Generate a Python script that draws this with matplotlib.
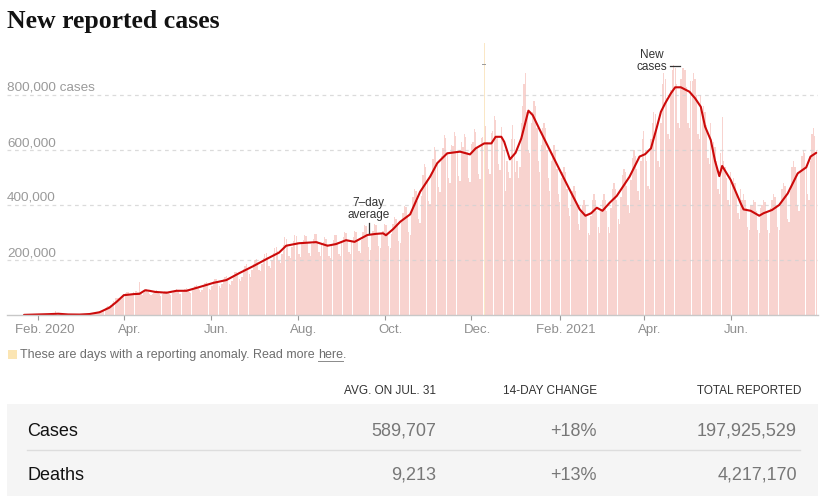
import matplotlib
matplotlib.use('Agg')
import matplotlib.pyplot as plt
import matplotlib.dates as mdates
import matplotlib.transforms as mtransforms
from matplotlib.patches import Rectangle
from matplotlib.lines import Line2D
import numpy as np
import pandas as pd

W, H, DPI = 830, 503, 100

# ---------------- data ----------------
start_date = '2020-01-22'
# daily new reported cases (thousands), one row per week (Wed..Tue)
daily_cases_k = [
    0.1, 0.1, 0.3, 0.5, 0.7, 0.8, 1.4,
    1.7, 2.0, 2.1, 2.6, 2.8, 3.2, 3.9,
    3.7, 3.2, 3.4, 2.6, 2.7, 3.1, 2.0,
    0.4, 15.1, 6.4, 2.1, 2.6, 2.0, 1.9,
    0.6, 0.5, 1.0, 1.0, 0.7, 0.6, 0.9,
    0.9, 1.1, 1.4, 1.8, 1.9, 1.8, 2.2,
    2.3, 2.7, 3.9, 3.9, 3.6, 3.8, 4.6,
    7.0, 7.4, 10.3, 12.0, 13.0, 15.0, 16.0,
    20, 27, 30, 32, 34, 38, 42,
    50, 62, 63, 63, 61, 58, 66,
    76, 79, 85, 82, 78, 72, 74,
    82, 86, 88, 82, 120, 76, 72,
    80, 92, 95, 85, 78, 74, 76,
    80, 86, 90, 84, 76, 70, 78,
    80, 86, 88, 84, 76, 72, 80,
    88, 92, 96, 90, 78, 76, 84,
    90, 96, 98, 94, 82, 80, 90,
    100, 106, 108, 102, 90, 84, 92,
    108, 118, 120, 112, 96, 92, 106,
    122, 130, 130, 124, 104, 100, 114,
    132, 138, 142, 134, 112, 110, 124,
    144, 156, 158, 148, 130, 124, 140,
    168, 180, 184, 172, 150, 140, 162,
    186, 200, 204, 192, 164, 160, 184,
    208, 222, 224, 212, 180, 172, 200,
    226, 244, 248, 234, 196, 190, 222,
    254, 282, 276, 256, 216, 206, 246,
    270, 290, 286, 264, 222, 212, 258,
    272, 292, 288, 266, 226, 216, 260,
    276, 296, 294, 268, 228, 216, 260,
    264, 282, 278, 258, 216, 208, 252,
    272, 292, 290, 266, 222, 214, 262,
    282, 302, 300, 274, 230, 222, 270,
    284, 304, 302, 276, 232, 224, 272,
    302, 326, 322, 292, 246, 238, 290,
    306, 330, 326, 298, 252, 242, 296,
    306, 330, 326, 298, 250, 242, 296,
    330, 356, 350, 322, 270, 262, 338,
    370, 398, 392, 360, 302, 290, 376,
    428, 460, 452, 414, 348, 336, 432,
    510, 548, 540, 495, 416, 402, 520,
    566, 610, 600, 550, 464, 446, 578,
    608, 656, 644, 590, 498, 480, 620,
    616, 664, 650, 598, 504, 486, 628,
    612, 660, 646, 594, 500, 482, 622,
    630, 678, 666, 610, 514, 496, 642,
    648, 700, 686, 630, 530, 512, 662,
    670, 722, 708, 652, 548, 528, 684,
    634, 600, 450, 560, 520, 500, 640,
    690, 640, 520, 560, 500, 540, 700,
    760, 840, 880, 740, 600, 590, 700,
    740, 780, 760, 680, 560, 520, 620,
    680, 700, 680, 600, 500, 450, 560,
    590, 620, 600, 530, 440, 410, 500,
    520, 540, 520, 460, 390, 360, 440,
    450, 470, 450, 400, 330, 310, 380,
    400, 420, 400, 360, 300, 290, 360,
    420, 440, 420, 380, 320, 300, 380,
    420, 440, 420, 380, 320, 300, 390,
    460, 480, 460, 420, 350, 330, 430,
    510, 530, 520, 470, 400, 370, 490,
    570, 600, 580, 530, 450, 420, 560,
    640, 670, 600, 560, 470, 460, 640,
    700, 740, 730, 680, 560, 540, 700,
    840, 880, 860, 790, 660, 640, 820,
    890, 910, 900, 840, 700, 680, 860,
    900, 900, 890, 830, 700, 680, 850,
    850, 880, 860, 800, 660, 640, 800,
    740, 760, 740, 690, 570, 550, 700,
    610, 630, 610, 560, 460, 440, 590,
    720, 560, 540, 500, 420, 400, 520,
    480, 500, 480, 440, 370, 350, 460,
    420, 440, 420, 390, 320, 310, 400,
    400, 420, 410, 380, 310, 300, 390,
    400, 420, 410, 380, 310, 300, 390,
    420, 440, 430, 400, 320, 310, 400,
    460, 480, 470, 440, 350, 340, 450,
    540, 560, 540, 500, 400, 380, 520,
    580, 600, 590, 540, 440, 420, 560,
    660, 680, 650, 600,
]

anomaly_dates = ['2020-12-10']
anomaly_cases_k = [990]

avg_dates = [
    '2020-01-22', '2020-02-01', '2020-02-08', '2020-02-15', '2020-02-22', '2020-03-01',
    '2020-03-08', '2020-03-15', '2020-03-22', '2020-03-27', '2020-04-01', '2020-04-08',
    '2020-04-12', '2020-04-16', '2020-04-19', '2020-04-23', '2020-05-01', '2020-05-08',
    '2020-05-15', '2020-05-25', '2020-06-03', '2020-06-12', '2020-06-21', '2020-07-01',
    '2020-07-10', '2020-07-19', '2020-07-24', '2020-08-02', '2020-08-14', '2020-08-22',
    '2020-08-28', '2020-09-04', '2020-09-10', '2020-09-19', '2020-09-25', '2020-09-30',
    '2020-10-02', '2020-10-07', '2020-10-12', '2020-10-19', '2020-10-26', '2020-11-02',
    '2020-11-07', '2020-11-14', '2020-11-23', '2020-11-30', '2020-12-04', '2020-12-10',
    '2020-12-15', '2020-12-18', '2020-12-22', '2020-12-24', '2020-12-28', '2021-01-01',
    '2021-01-05', '2021-01-10', '2021-01-13', '2021-01-18', '2021-01-25', '2021-02-01',
    '2021-02-08', '2021-02-15', '2021-02-19', '2021-02-23', '2021-02-27', '2021-03-03',
    '2021-03-08', '2021-03-13', '2021-03-22', '2021-03-29', '2021-04-02', '2021-04-06',
    '2021-04-10', '2021-04-13', '2021-04-16', '2021-04-20', '2021-04-23', '2021-04-27',
    '2021-05-03', '2021-05-07', '2021-05-11', '2021-05-14', '2021-05-18', '2021-05-21',
    '2021-05-24', '2021-05-26', '2021-05-28', '2021-06-01', '2021-06-08', '2021-06-10',
    '2021-06-15', '2021-06-21', '2021-06-24', '2021-06-30', '2021-07-05', '2021-07-11',
    '2021-07-18', '2021-07-24', '2021-07-27', '2021-07-31',
]
avg_cases_k = [
    0.5, 2.0, 3.0, 4.5, 2.0, 1.6,
    3.5, 10, 27, 48, 72, 76,
    77, 90, 88, 84, 81, 88,
    88, 103, 117, 127, 152, 178,
    203, 227, 252, 261, 265, 252,
    258, 272, 266, 291, 295, 297,
    290, 312, 339, 366, 448, 503,
    552, 588, 594, 584, 606, 624,
    624, 648, 648, 630, 566, 590,
    642, 743, 727, 673, 600, 527,
    455, 384, 361, 370, 390, 379,
    408, 433, 503, 576, 585, 606,
    680, 739, 770, 806, 828, 828,
    812, 788, 757, 685, 636, 560,
    505, 542, 525, 491, 406, 384,
    379, 361, 370, 382, 400, 442,
    515, 537, 576, 589.707,
]

y_ticks = [200000, 400000, 600000, 800000]
y_tick_labels = ['200,000', '400,000', '600,000', '800,000 cases']
x_tick_dates = ['2020-02-01', '2020-04-01', '2020-06-01', '2020-08-01', '2020-10-01',
                '2020-12-01', '2021-02-01', '2021-04-01', '2021-06-01']
x_tick_labels = ['Feb. 2020', 'Apr.', 'Jun.', 'Aug.', 'Oct.', 'Dec.', 'Feb. 2021', 'Apr.', 'Jun.']

table_columns = ['AVG. ON JUL. 31', '14-DAY CHANGE', 'TOTAL REPORTED']
table_rows = ['Cases', 'Deaths']
table_avg = ['589,707', '9,213']
table_change = ['+18%', '+13%']
table_total = ['197,925,529', '4,217,170']

# ---------------- styles ----------------
BAR_COLOR = '#f8d3cf'
ANOM_COLOR = '#fae7c6'
LINE_COLOR = '#cc0a0a'
GRID_COLOR = '#d2d2d2'
SANS = ['Liberation Sans', 'DejaVu Sans']

plt.rcParams['font.family'] = SANS

fig = plt.figure(figsize=(W / DPI, H / DPI), dpi=DPI)
fig.patch.set_facecolor('white')


def fx(px):
    return px / W


def fy(py):
    return 1 - py / H


ax = fig.add_axes([fx(7), fy(315), fx(817.5) - fx(7), fy(40) - fy(315)])
ax.set_facecolor('none')

d0 = mdates.date2num(pd.Timestamp(start_date))
ax.set_xlim(d0 - 11.96, d0 + 556.9)
ax.set_ylim(0, 1_000_000)

# bars
dates = pd.date_range(start_date, periods=len(daily_cases_k), freq='D')
xs = mdates.date2num(dates)
vals = np.array(daily_cases_k, dtype=float) * 1000
anom_x = mdates.date2num(pd.to_datetime(anomaly_dates))
mask = ~np.isin(xs, anom_x)
ax.bar(xs[mask], vals[mask], width=0.92, color=BAR_COLOR, linewidth=0, zorder=2)
ax.bar(anom_x, np.array(anomaly_cases_k) * 1000, width=0.7, color=ANOM_COLOR,
       linewidth=0, zorder=2)

# grid lines
for yt in y_ticks:
    ax.axhline(yt, color=GRID_COLOR, lw=0.9, ls=(0, (3, 3)), alpha=0.8, zorder=3)

# 7-day average line
ax_x = mdates.date2num(pd.to_datetime(avg_dates))
ax_y = np.array(avg_cases_k) * 1000
ax.plot(ax_x, ax_y, color=LINE_COLOR, lw=1.5, solid_joinstyle='round',
        solid_capstyle='round', zorder=5)

# y labels inside plot
ylab_tr = mtransforms.blended_transform_factory(ax.transAxes, ax.transData) + \
    mtransforms.ScaledTranslation(0, 4 / DPI, fig.dpi_scale_trans)
for yt, lab in zip(y_ticks, y_tick_labels):
    ax.text(0, yt, lab, transform=ylab_tr, ha='left', va='baseline',
            fontsize=9.7, color='#9a9a9a', zorder=6)
ax.set_yticks([])

# x axis
for s in ['top', 'right', 'left']:
    ax.spines[s].set_visible(False)
ax.spines['bottom'].set_color('#c8c8c8')
ax.spines['bottom'].set_linewidth(1.0)
ax.spines['bottom'].set_zorder(6)
ax.set_xticks(mdates.date2num(pd.to_datetime(x_tick_dates)))
ax.set_xticklabels(x_tick_labels)
ax.tick_params(axis='x', length=3.6, width=0.8, color='#999999',
               labelcolor='#8f8f8f', labelsize=9.5, pad=3)
off = mtransforms.ScaledTranslation(6 / DPI, 0, fig.dpi_scale_trans)
for lab in ax.get_xticklabels():
    lab.set_transform(lab.get_transform() + off)

# annotation: 7-day average
ann_date = mdates.date2num(pd.Timestamp('2020-09-20'))
ann_val = np.interp(ann_date, ax_x, ax_y)
px_per_val = (315 - 40) / 1_000_000
ax.plot([ann_date, ann_date], [ann_val + 2 / px_per_val, ann_val + 12 / px_per_val],
        color='#333333', lw=0.9, zorder=6)
ax.text(ann_date, ann_val + 26 / px_per_val, '7\u2013day\naverage', ha='center',
        va='center', fontsize=8.5, color='#333333', linespacing=1.05, zorder=6)

# annotation: New cases
fig.text(fx(667), fy(61), 'New\ncases', ha='right', va='center', fontsize=8.5,
         color='#333333', linespacing=1.05, multialignment='center')
fig.add_artist(Line2D([fx(670), fx(680)], [fy(66), fy(66)], color='#333333', lw=0.9))
fig.add_artist(Line2D([fx(482), fx(485)], [fy(64), fy(64)], color='#999999', lw=0.7))

# title
fig.text(fx(7), fy(28), 'New reported cases', fontfamily='Liberation Serif',
         fontweight='bold', fontsize=18.5, color='#121212', va='baseline', ha='left')

# footnote
fig.add_artist(Rectangle((fx(8), fy(359)), fx(9), 9 / H, color='#fbe5b3', lw=0,
                         transform=fig.transFigure))
t1 = fig.text(fx(20), fy(355), 'These are days with a reporting anomaly. Read more',
              ha='left', va='center', fontsize=9, color='#6e6e6e')
fig.canvas.draw()
r = fig.canvas.get_renderer()
bb = t1.get_window_extent(r)
x_here = bb.x1 + 3.2
t2 = fig.text(x_here / W, fy(355), 'here', ha='left', va='center', fontsize=9,
              color='#6e6e6e')
bb2 = t2.get_window_extent(r)
fig.add_artist(Line2D([bb2.x0 / W, bb2.x1 / W], [fy(361), fy(361)], color='#8a8a8a', lw=0.7))
fig.text(bb2.x1 / W, fy(355), '.', ha='left', va='center', fontsize=9, color='#6e6e6e')

# table
col_right = [436, 597, 801]
for cr, c in zip(col_right, table_columns):
    fig.text(fx(cr), fy(391), c, ha='right', va='center', fontsize=8.5, color='#333333')
fig.add_artist(Rectangle((fx(7), fy(496)), fx(818) - fx(7), (496 - 404) / H,
                         color='#f5f5f5', lw=0, transform=fig.transFigure, zorder=0))
row_y = [431, 475]
val_right = [436, 597, 797]
for i, (ry, name) in enumerate(zip(row_y, table_rows)):
    fig.text(fx(27), fy(ry), name, ha='left', va='center', fontsize=13, color='#121212')
    for vr, v in zip(val_right, [table_avg[i], table_change[i], table_total[i]]):
        fig.text(fx(vr), fy(ry), v, ha='right', va='center', fontsize=13, color='#777777')
fig.add_artist(Line2D([fx(27), fx(800)], [fy(450), fy(450)], color='#dddddd', lw=1.0))

fig.savefig('out.png', dpi=DPI)
